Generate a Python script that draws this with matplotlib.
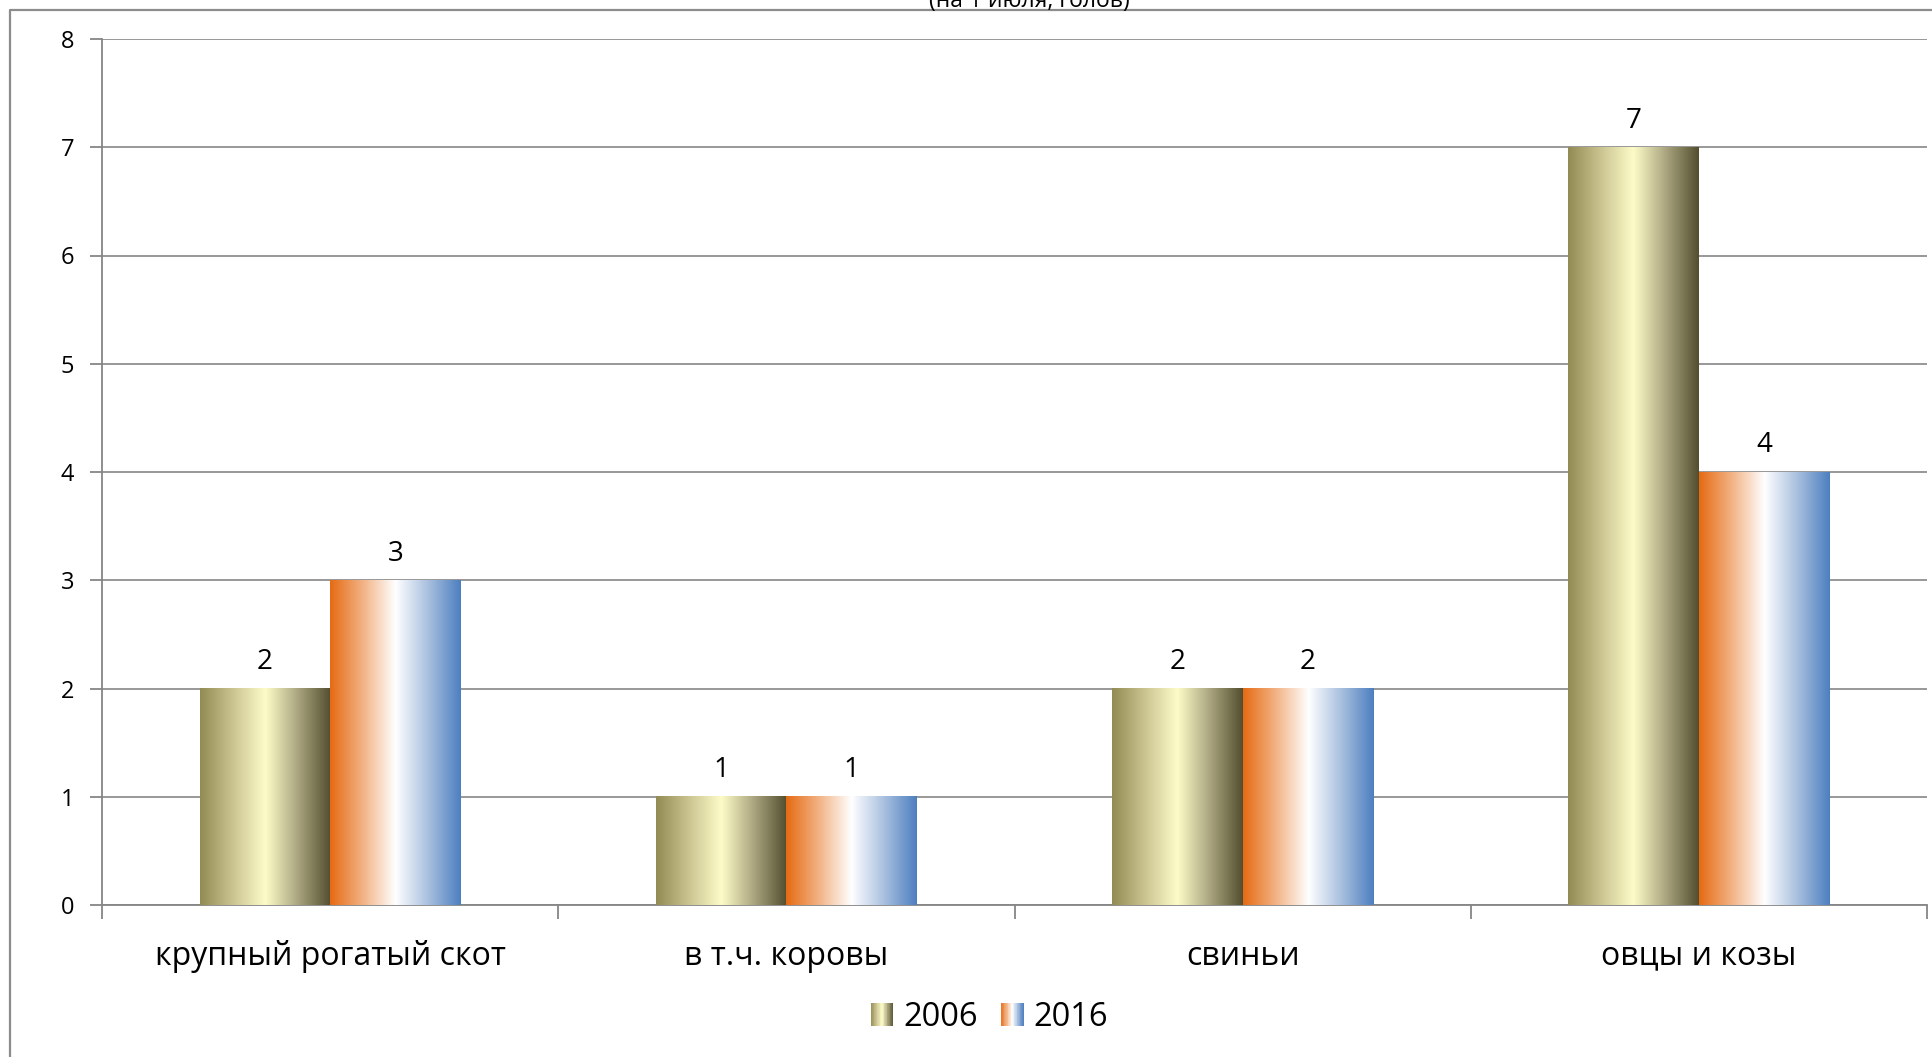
import numpy as np
import matplotlib
matplotlib.use("Agg")
import matplotlib.pyplot as plt
from matplotlib.colors import LinearSegmentedColormap
from matplotlib.legend_handler import HandlerBase
from matplotlib.patches import Rectangle
from matplotlib.lines import Line2D

plt.rcParams['font.family'] = ['Open Sans', 'DejaVu Sans']

categories = ["крупный рогатый скот", "в т.ч. коровы", "свиньи", "овцы и козы"]
years = ["2006", "2016"]
values_2006 = [2, 1, 2, 7]
values_2016 = [3, 1, 2, 4]
subtitle = "(на 1 июля, голов)"

# horizontal gradients used for the bar fills
cmap_2006 = LinearSegmentedColormap.from_list(
    "olive", [(0.0, "#938b54"), (0.22, "#c4bd8a"), (0.5, "#fdfcc8"),
              (0.75, "#aaa57f"), (1.0, "#534e2f")])
cmap_2016 = LinearSegmentedColormap.from_list(
    "orblue", [(0.0, "#e56b14"), (0.25, "#f2b284"), (0.5, "#ffffff"),
               (0.75, "#a9c0df"), (1.0, "#4d7fbf")])
GRAD = np.linspace(0, 1, 256).reshape(1, -1)
GRAY = "#868686"


class GradientHandler(HandlerBase):
    def __init__(self, cmap, n=30):
        super().__init__()
        self.cmap = cmap
        self.n = n

    def create_artists(self, legend, orig_handle, xdescent, ydescent,
                       width, height, fontsize, trans):
        w = height * 1.0
        x0 = -xdescent + (width - w)
        step = w / self.n
        arts = []
        for k in range(self.n):
            arts.append(Rectangle((x0 + k * step, -ydescent), step * 1.05, height,
                                  facecolor=self.cmap((k + 0.5) / self.n),
                                  edgecolor="none", transform=trans))
        return arts


fig = plt.figure(figsize=(19.32, 10.57), dpi=100)
ax = fig.add_axes([102 / 1932, 1 - 905 / 1057, (1927 - 102) / 1932, (905 - 39) / 1057])

x = np.arange(len(categories))
width = 0.286
bars_a = ax.bar(x - width / 2, values_2006, width, color="none", label=years[0])
bars_b = ax.bar(x + width / 2, values_2016, width, color="none", label=years[1])

for bars, cmap in ((bars_a, cmap_2006), (bars_b, cmap_2016)):
    for b in bars:
        x0, h, w = b.get_x(), b.get_height(), b.get_width()
        ax.imshow(GRAD, cmap=cmap, aspect="auto", extent=(x0, x0 + w, 0, h),
                  interpolation="bilinear", zorder=3)
        ax.annotate(f"{h:g}", (x0 + w / 2, h), xytext=(0, 9), textcoords="offset points",
                    ha="center", va="bottom", fontsize=20, color="black")

ax.set_xlim(-0.5, len(categories) - 0.5)
ax.set_ylim(0, 8)

ax.set_yticks(range(0, 9))
ax.tick_params(axis="y", length=9, width=1.3, color=GRAY, labelsize=17, pad=11)
ax.set_xticks(np.arange(-0.5, len(categories), 1.0))
ax.set_xticklabels([])
ax.tick_params(axis="x", which="major", length=10, width=1.3, color=GRAY)
ax.set_xticks(x, minor=True)
ax.set_xticklabels(categories, minor=True, fontsize=23)
ax.tick_params(axis="x", which="minor", length=0, pad=25)

ax.grid(axis="y", color=GRAY, linewidth=1.2, zorder=0)
ax.set_axisbelow(True)
for side in ("top", "right"):
    ax.spines[side].set_visible(False)
for side in ("left", "bottom"):
    ax.spines[side].set_color(GRAY)
    ax.spines[side].set_linewidth(1.3)

ax.legend(handles=[bars_a, bars_b], labels=years,
          handler_map={bars_a: GradientHandler(cmap_2006), bars_b: GradientHandler(cmap_2016)},
          loc="center", bbox_to_anchor=(986 / 1932, 1 - 1017 / 1057),
          bbox_transform=fig.transFigure, ncol=2, frameon=False, fontsize=23.5,
          handlelength=0.9, handletextpad=0.3, columnspacing=0.5)

fig.text(1029 / 1932, 1 - 7 / 1057, subtitle, ha="center", va="baseline", fontsize=16.5)

# outer chart frame (left and top edges)
fig.add_artist(Line2D([10 / 1932, 10 / 1932, 1.0], [0.0, 1 - 10 / 1057, 1 - 10 / 1057],
                      transform=fig.transFigure, color="#8c8c8c", linewidth=1.6))

fig.savefig("out.png", dpi=100)
